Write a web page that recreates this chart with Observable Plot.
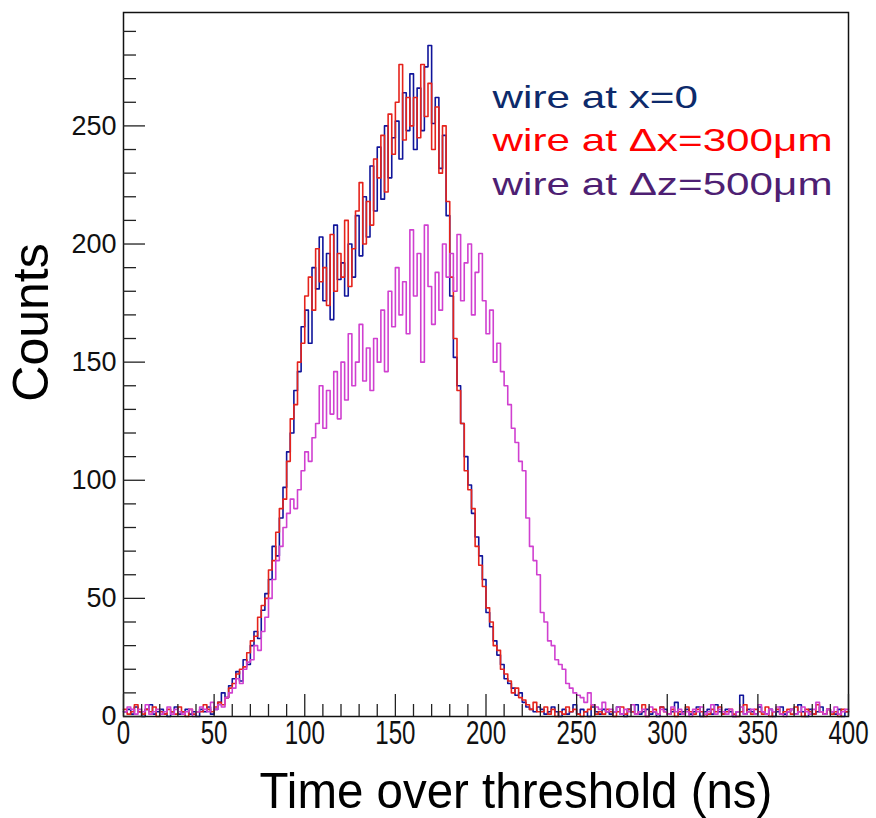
<!DOCTYPE html>
<html><head><meta charset="utf-8">
<script src="https://cdn.jsdelivr.net/npm/d3@7"></script>
<script src="https://cdn.jsdelivr.net/npm/@observablehq/plot@0.6"></script>
<style>body{margin:0;background:#fff} #chart svg{display:block}</style>
</head><body><div id="chart"></div>
<script>
// Histogram bin width (ns); 200 bins covering 0–400 ns
const binWidth = 2;

// wire at x=0 (blue)
const countsX0 = [
  2,3,1,4,2,0,3,5,1,2,3,1,0,2,4,1,2,3,1,2,0,3,2,4,1,
  3,6,10,8,13, 16,19,15,24,22, 30,36,33,45,52, 58,72,68,84,97,
  112,120,138,146,165, 172,158,190,181,203, 176,196,168,208,185,
  192,178,200,186,212, 195,220,203,233,214, 241,219,250,228,245,
  252,236,264,248,272, 240,266,248,275,284, 251,262,232,246,212,
  178,152,140,124,110, 98,86,76,68,58, 44,38,32,26,22,
  16,14,12,9,10, 6,4,3,2,4,
  3,1,2,4,2,0,3,1,2,5,1,3,2,0,4,2,1,3,2,1,
  2,4,1,0,3,2,5,1,2,3,1,2,0,4,3,1,2,6,1,2,
  3,1,2,4,0,2,3,1,5,2,1,3,2,0,2,9,1,3,2,1,
  4,2,1,3,0,2,4,1,2,3,1,5,2,0,3,1,2,4,1,3,
  2,1,3,0,2
];

// wire at Δx=300μm (red)
const countsDx300 = [
  3,1,2,5,2,1,3,2,4,0,2,1,3,2,1,4,2,0,3,1,2,2,5,3,2,
  4,6,5,8,12, 14,18,20,21,27, 32,34,42,47,50, 62,66,78,88,92,
  108,126,132,150,158, 178,186,172,198,184, 190,174,204,180,196,
  186,210,182,198,214, 226,200,218,208,236, 228,246,222,255,238,
  260,276,244,262,250, 262,245,276,254,268, 240,258,230,250,218,
  186,160,138,124,104, 96,88,72,64,55, 46,40,30,28,20,
  18,15,10,12,8, 7,5,3,6,2,
  2,4,1,3,0,2,1,4,2,3,1,0,2,3,5,1,2,1,3,2,
  0,2,4,1,3,2,1,2,5,0,2,3,1,4,2,1,3,0,2,1,
  4,2,1,3,2,0,1,3,2,4,1,2,3,1,0,2,5,2,1,3,
  2,1,4,0,2,3,1,2,3,1,4,2,0,3,2,1,5,2,1,3,
  1,2,0,3,2
];

// wire at Δz=500μm (magenta)
const countsDz500 = [
  2,4,3,1,3,2,5,1,2,3,1,2,4,1,3,2,1,2,3,0,2,4,3,2,6,
  3,5,4,8,10, 12,16,14,20,23, 24,30,28,36,42, 50,58,66,72,80,
  86,92,88,96,104, 112,108,118,124,140, 122,138,128,146,126,
  150,134,162,140,150, 166,142,156,138,160, 150,172,146,180,165,
  190,170,184,162,206, 178,196,150,208,182, 166,188,172,200,186,
  196,180,204,176,192, 200,170,188,196,176, 162,172,150,158,146,
  140,132,122,116,108, 104,84,72,66,60, 44,40,32,30,24,
  22,20,14,12,10, 9,8,6,10,5, 4,3,6,2,3,
  2,4,1,3,2,5,1,2,3,0,4,2,1,3,2,1,4,2,3,1,
  2,0,3,2,4,1,2,5,1,3,2,1,3,0,2,4,1,2,3,1,
  5,2,1,3,2,4,1,0,2,3,1,2,4,2,1,3,6,2,1,3,
  2,4,1,2,3
];

const seriesNames = ["wire at x=0", "wire at \u0394x=300\u03bcm", "wire at \u0394z=500\u03bcm"];
const lineColors = ["#10149a", "#e5231c", "#d040d0"];
const legendColors = ["#0d2a6b", "#ff0000", "#4e1f73"];

const xMajorTicks = [0, 50, 100, 150, 200, 250, 300, 350, 400];
const xMinorTicks = d3.range(0, 401, 10).filter(v => v % 50 !== 0);
const yMajorTicks = [0, 50, 100, 150, 200, 250];
const yMinorTicks = d3.range(10, 291, 10).filter(v => v % 50 !== 0);

const xTitle = "Time over threshold (ns)";
const yTitle = "Counts";

function toSteps(values, name) {
  const rows = values.map((v, i) => ({t: i * binWidth, c: v, s: name}));
  rows.push({t: values.length * binWidth, c: values[values.length - 1], s: name});
  return rows;
}
const allSeries = [countsX0, countsDx300, countsDz500].map((vals, k) => toSteps(vals, seriesNames[k]));

const font = "'Liberation Sans', Arial, Helvetica, sans-serif";
const X_LABEL_SIZE = 33, Y_LABEL_SIZE = 27, LEGEND_SIZE = 32, TITLE_SIZE = 50;

const plot = Plot.plot({
  width: 876,
  height: 818,
  marginLeft: 123,
  marginRight: 28,
  marginTop: 12,
  marginBottom: 102,
  x: {domain: [0, 400]},
  y: {domain: [0, 298]},
  style: {fontFamily: font, background: "white", color: "black"},
  marks: [
    ...allSeries.map((rows, k) => Plot.line(rows, {x: "t", y: "c", curve: "step-after", stroke: lineColors[k], strokeWidth: 1.6})),
    Plot.frame({stroke: "#111", strokeWidth: 1.5}),
    // x axis: major ticks inward, minor ticks inward, labels
    Plot.axisX(xMajorTicks, {tickSize: -22, tickFormat: () => "", label: null, stroke: "#222", strokeWidth: 1.3}),
    Plot.axisX(xMinorTicks, {tickSize: -12, tickFormat: () => "", label: null, stroke: "#222", strokeWidth: 1.3}),
    Plot.axisX(xMajorTicks, {tickSize: 0, tickPadding: 4, label: null, fontSize: X_LABEL_SIZE, fill: "#111"}),
    // y axis
    Plot.axisY(yMajorTicks, {tickSize: -22, tickFormat: () => "", label: null, stroke: "#222", strokeWidth: 1.3}),
    Plot.axisY(yMinorTicks, {tickSize: -13, tickFormat: () => "", label: null, stroke: "#222", strokeWidth: 1.3}),
    Plot.axisY(yMajorTicks, {tickSize: 0, tickPadding: 7, label: null, fontSize: Y_LABEL_SIZE, fill: "#111"}),
    // axis titles
    Plot.text([xTitle], {frameAnchor: "bottom", dx: 30, dy: 91, lineAnchor: "bottom", fontSize: TITLE_SIZE, fill: "#000"}),
    Plot.text([yTitle], {frameAnchor: "left", dx: -92, dy: -42, rotate: -90, textAnchor: "middle", lineAnchor: "middle", fontSize: TITLE_SIZE, fill: "#000"}),
    // legend
    ...seriesNames.map((name, k) => Plot.text([name], {
      frameAnchor: "top-left", dx: 492 - 123, dy: 95 + 43.5 * k, textAnchor: "start", lineAnchor: "bottom",
      fontSize: LEGEND_SIZE, fill: legendColors[k]
    }))
  ]
});

document.getElementById("chart").appendChild(plot);

// Stretch / condense text horizontally to match the reference's typography
function appendScale(el, sx) {
  const t = el.getAttribute("transform") || "";
  el.setAttribute("transform", (t + ` scale(${sx},1)`).trim());
}
plot.querySelectorAll("text").forEach(el => {
  const s = el.textContent;
  const g = el.closest("g[font-size]");
  const fs = g ? parseFloat(g.getAttribute("font-size")) : NaN;
  if (seriesNames.includes(s)) appendScale(el, 1.32);
  else if (s === xTitle) appendScale(el, 0.95);
  else if (fs === X_LABEL_SIZE) appendScale(el, 0.73);
});
</script>
</body></html>
